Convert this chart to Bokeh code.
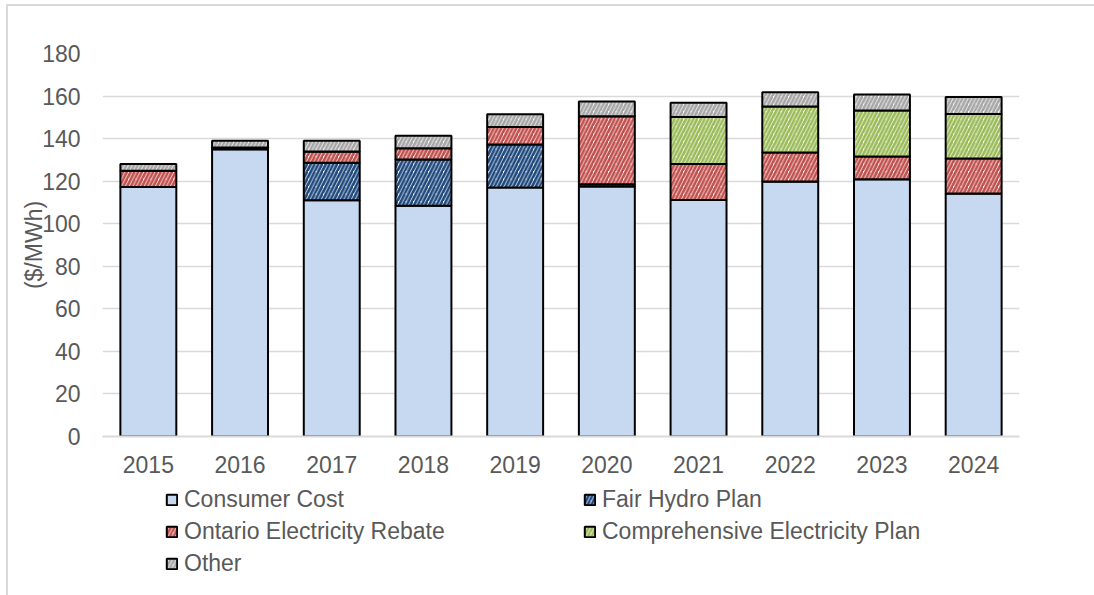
from bokeh.plotting import figure
from bokeh.layouts import column
from bokeh.models import FactorRange, Legend, LegendItem, FixedTicker, ColumnDataSource
from bokeh.embed import file_html
from bokeh.resources import INLINE

years = ["2015", "2016", "2017", "2018", "2019", "2020", "2021", "2022", "2023", "2024"]
consumer_cost = [117.2, 135.0, 111.0, 108.4, 117.0, 117.5, 111.2, 119.8, 120.9, 114.2]
fair_hydro = [0.0, 0.0, 17.6, 21.8, 20.2, 1.0, 0.0, 0.0, 0.0, 0.0]
ontario_rebate = [7.7, 0.8, 5.3, 5.3, 8.2, 32.0, 16.9, 13.7, 10.7, 16.4]
comprehensive = [0.0, 0.0, 0.0, 0.0, 0.0, 0.0, 22.0, 21.6, 21.6, 21.0]
other = [3.2, 3.2, 5.1, 5.9, 6.1, 7.0, 6.7, 6.7, 7.5, 8.0]

series = ["Consumer Cost", "Fair Hydro Plan", "Ontario Electricity Rebate",
          "Comprehensive Electricity Plan", "Other"]
keys = ["cc", "fhp", "oer", "cep", "oth"]
fills = ["#c6d9f0", "white", "white", "white", "white"]
hatch_colors = ["white", "#1f497d", "#c0504d", "#9bbb59", "#a6a6a6"]
hatches = [" ", "/", "/", "/", "/"]

yticks = [0, 20, 40, 60, 80, 100, 120, 140, 160, 180]

source = ColumnDataSource(dict(years=years, cc=consumer_cost, fhp=fair_hydro,
                               oer=ontario_rebate, cep=comprehensive, oth=other))

TXT = "#595959"
FONT = "Liberation Sans"
FS = "23px"
HSCALE = 7.5
HWEIGHT = 2.7

bar_style = dict(width=0.61, fill_color=fills, line_color="black", line_width=2,
                 hatch_pattern=hatches, hatch_color=hatch_colors,
                 hatch_scale=HSCALE, hatch_weight=HWEIGHT)

p = figure(x_range=FactorRange(*years, range_padding=0), y_range=(0, 180),
           width=1086, height=475, output_backend="svg", toolbar_location=None,
           min_border_left=94, min_border_right=75, min_border_top=47,
           min_border_bottom=45)
p.outline_line_color = None
p.background_fill_color = "white"
p.border_fill_color = "white"

renderers = p.vbar_stack(keys, x="years", source=source, **bar_style)

p.xgrid.grid_line_color = None
p.ygrid.grid_line_color = "#d9d9d9"
p.ygrid.grid_line_width = 1.5
p.yaxis.ticker = FixedTicker(ticks=yticks)

p.yaxis.axis_line_color = None
p.yaxis.major_tick_line_color = None
p.yaxis.minor_tick_line_color = None
p.yaxis.major_label_standoff = 16
p.yaxis.axis_label = "($/MWh)"
p.yaxis.axis_label_standoff = -8
p.yaxis.axis_label_text_font_style = "normal"

p.xaxis.axis_line_color = "#d9d9d9"
p.xaxis.axis_line_width = 2
p.xaxis.major_tick_line_color = None
p.xaxis.minor_tick_line_color = None
p.xaxis.major_label_standoff = 13

for ax in (p.xaxis[0], p.yaxis[0]):
    ax.major_label_text_font = FONT
    ax.major_label_text_font_size = FS
    ax.major_label_text_color = TXT
    ax.axis_label_text_font = FONT
    ax.axis_label_text_font_size = FS
    ax.axis_label_text_color = TXT

# legend panel (holds hidden copies of the bars so the legend can draw their swatches)
p2 = figure(width=1086, height=114, x_range=FactorRange(*years, range_padding=0),
            y_range=(0, 180), output_backend="svg", toolbar_location=None,
            min_border_left=0, min_border_right=0, min_border_top=0, min_border_bottom=0)
p2.axis.visible = False
p2.grid.visible = False
p2.outline_line_color = None

dummies = p2.vbar_stack(keys, x="years", source=source, **bar_style)
for r in dummies:
    r.visible = False


def make_legend(idx, loc):
    lg = Legend(items=[LegendItem(label=series[i], renderers=[dummies[i]]) for i in idx],
                location=loc, orientation="vertical", click_policy="none")
    lg.label_text_font = FONT
    lg.label_text_font_size = FS
    lg.label_text_color = TXT
    lg.glyph_width = 13
    lg.glyph_height = 13
    lg.label_standoff = 6
    lg.label_height = 32
    lg.spacing = 0
    lg.padding = 0
    lg.margin = 0
    lg.border_line_color = None
    lg.background_fill_alpha = 0
    return lg


p2.add_layout(make_legend([0, 2, 4], (63, 16)))
p2.add_layout(make_legend([1, 3], (481, 48)))

layout = column(p, p2, spacing=0, margin=(4, 0, 0, 6),
                styles={"border-top": "2px solid #d9d9d9", "border-left": "2px solid #d9d9d9"})

open("out.html", "w").write(file_html(layout, INLINE))
